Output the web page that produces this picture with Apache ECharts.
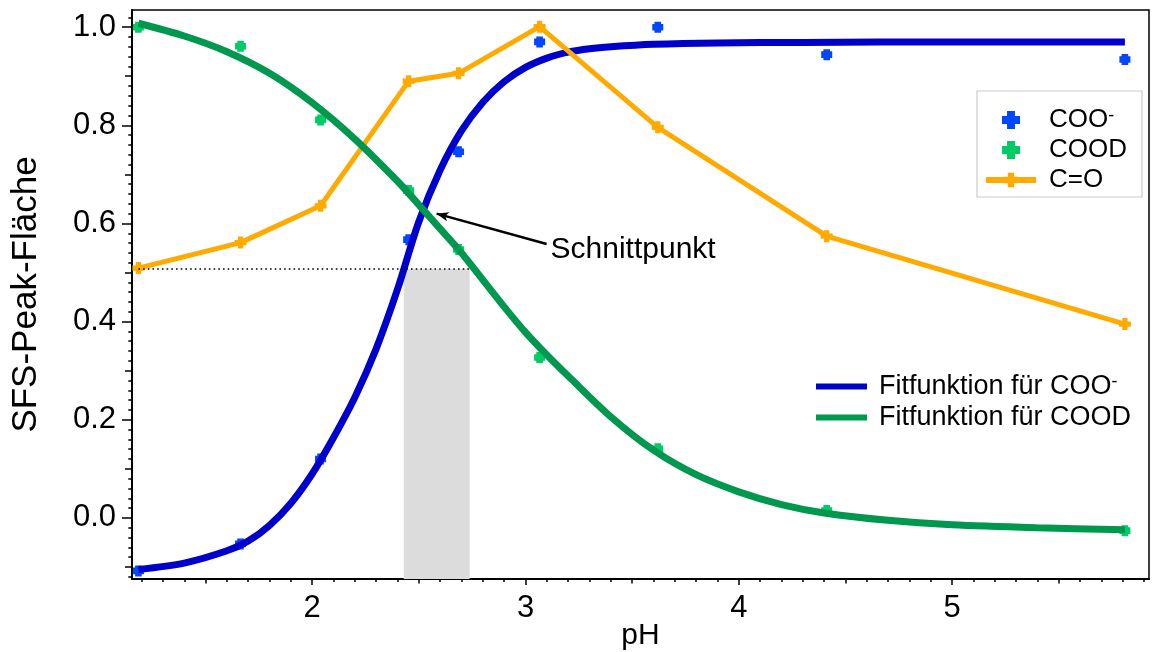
<!DOCTYPE html>
<html><head><meta charset="utf-8">
<script src="https://cdn.jsdelivr.net/npm/echarts@6/dist/echarts.min.js"></script>
<style>html,body{margin:0;padding:0;background:#fff}#c{width:1152px;height:652px}</style>
</head><body><div id="c"></div>
<script>
// ---- measured data (pH vs SFS peak area) ----
const pH        = [1.185, 1.664, 2.039, 2.452, 2.686, 3.066, 3.620, 4.412, 5.810];
const cooMinus  = [-0.108, -0.053, 0.120, 0.567, 0.746, 0.970, 1.000, 0.944, 0.934];
const cood      = [1.000, 0.961, 0.811, 0.667, 0.547, 0.327, 0.141, 0.015, -0.026];
const cO        = [0.509, 0.561, 0.636, 0.890, 0.906, 1.001, 0.796, 0.574, 0.395];

// ---- fit curves ----
const fitCooX  = [1.185, 1.4, 1.6, 1.7, 1.8, 1.9, 2.0, 2.1, 2.2, 2.3, 2.4, 2.5, 2.6, 2.7, 2.8, 2.9, 3.0, 3.1, 3.2, 3.3, 3.4, 3.6, 3.9, 4.3, 5.0, 5.81];
const fitCooY  = [-0.105, -0.092, -0.067, -0.047, -0.015, 0.030, 0.090, 0.164, 0.246, 0.345, 0.466, 0.604, 0.709, 0.789, 0.847, 0.889, 0.918, 0.937, 0.949, 0.956, 0.960, 0.965, 0.968, 0.969, 0.970, 0.970];
const fitCoodX = [1.185, 1.4, 1.6, 1.8, 2.0, 2.2, 2.4, 2.5, 2.6, 2.7, 2.8, 2.9, 3.0, 3.1, 3.2, 3.4, 3.6, 3.8, 4.0, 4.2, 4.4, 4.7, 5.0, 5.4, 5.81];
const fitCoodY = [1.008, 0.982, 0.950, 0.906, 0.846, 0.772, 0.686, 0.638, 0.589, 0.540, 0.485, 0.430, 0.378, 0.332, 0.289, 0.206, 0.138, 0.088, 0.053, 0.027, 0.010, -0.005, -0.014, -0.020, -0.024];

// ---- axis ticks ----
const xTickLabels = [2, 3, 4, 5];
const xMidTicks   = [1.5, 2.5, 3.5, 4.5, 5.5];
const yTickLabels = [0.0, 0.2, 0.4, 0.6, 0.8, 1.0];
const yMidTicks   = [-0.1, 0.1, 0.3, 0.5, 0.7, 0.9];
const xMinorTicks = []; for (let i = 12; i <= 59; i++) xMinorTicks.push(i / 10);
const yMinorTicks = []; for (let i = -6; i <= 51; i++) yMinorTicks.push(i / 50);

// ---- annotations (data space) ----
const shadeRange = [2.429, 2.738];
const shadeTop = 0.507;
const dottedStart = 1.185;
const arrowFrom = [3.099, 0.558];
const arrowTo = [2.583, 0.620];
const labelAt = [3.115, 0.546];

const X_MIN = 1.155, X_MAX = 5.923, Y_MIN = -0.1245, Y_MAX = 1.035;
const FF = 'Liberation Sans, Arial, Helvetica, sans-serif';
const PLUS = 'path://M2.8,0H7.2V2.8H10V7.2H7.2V10H2.8V7.2H0V2.8H2.8Z';
const DOT = 'path://M2,0H8V2H10V8H8V10H2V8H0V2H2Z';

const zip = (a, b) => a.map((v, i) => [v, b[i]]);
const tickStyle = {color: '#000', width: 1.5};

function xAx(ticks, len, main) {
  return {
    type: 'value', min: X_MIN, max: X_MAX, position: 'bottom',
    axisLine: {show: !!main, onZero: false, lineStyle: {color: '#000', width: 2}},
    axisTick: {show: true, customValues: ticks, length: len, lineStyle: tickStyle},
    axisLabel: main ? {show: true, customValues: xTickLabels, margin: 14, fontSize: 31, color: '#000', fontFamily: FF} : {show: false},
    splitLine: {show: false},
    name: main ? 'pH' : '', nameLocation: 'middle', nameGap: 42, nameMoveOverlap: false,
    nameTextStyle: {fontSize: 30, color: '#000', fontFamily: FF}
  };
}
function yAx(ticks, len, main) {
  return {
    type: 'value', min: Y_MIN, max: Y_MAX, position: 'left',
    axisLine: {show: !!main, onZero: false, lineStyle: {color: '#000', width: 2}},
    axisTick: {show: true, customValues: ticks, length: len, lineStyle: tickStyle},
    axisLabel: main ? {show: true, customValues: yTickLabels, margin: 16, fontSize: 31, color: '#000', fontFamily: FF,
      formatter: v => (Math.abs(v) < 1e-9 ? 0 : v).toFixed(1)} : {show: false},
    splitLine: {show: false},
    name: main ? 'SFS-Peak-Fläche' : '', nameLocation: 'middle', nameGap: 88, nameMoveOverlap: false,
    nameTextStyle: {fontSize: 35, color: '#000', fontFamily: FF}
  };
}

const legendFmt = name => name.endsWith('COO-') ? '{a|' + name.slice(0, -1) + '}{s|-}' : '{a|' + name + '}';
const legendRich = {
  a: {fontSize: 26, lineHeight: 26, fontFamily: FF, color: '#000'},
  s: {fontSize: 18, lineHeight: 4, verticalAlign: 'top', fontFamily: FF, color: '#000'}
};
const legendRich2 = {
  a: {fontSize: 27, lineHeight: 27, fontFamily: FF, color: '#000'},
  s: {fontSize: 18, lineHeight: 4, verticalAlign: 'top', fontFamily: FF, color: '#000'}
};

const option = {
  animation: false,
  backgroundColor: '#fff',
  grid: {left: 132, right: 3, top: 10, bottom: 73, outerBoundsMode: 'none', containLabel: false,
    show: true, borderColor: '#000', borderWidth: 1.5, backgroundColor: 'transparent'},
  xAxis: [xAx(xTickLabels, 6, true), xAx(xMidTicks, 4.5, false), xAx(xMinorTicks, 3, false)],
  yAxis: [yAx(yTickLabels, 10, true), yAx(yMidTicks, 7, false), yAx(yMinorTicks, 3.7, false)],
  legend: [
    {
      orient: 'vertical', left: 977, top: 91, padding: [16, 15, 4, 6],
      borderColor: '#cccccc', borderWidth: 1.2, itemWidth: 50, itemHeight: 18, itemGap: 4,
      selectedMode: false, lineStyle: {width: 6},
      data: [{name: 'COO-', icon: PLUS}, {name: 'COOD', icon: PLUS}, {name: 'C=O'}],
      formatter: legendFmt,
      textStyle: {fontSize: 26, fontFamily: FF, color: '#000', padding: [0, 0, 0, 8], rich: legendRich}
    },
    {
      orient: 'vertical', left: 816, top: 373, padding: 0,
      itemWidth: 51, itemHeight: 6, itemGap: 4, selectedMode: false,
      data: [{name: 'Fitfunktion für COO-', icon: 'rect'}, {name: 'Fitfunktion für COOD', icon: 'rect'}],
      formatter: legendFmt,
      textStyle: {fontSize: 27, fontFamily: FF, color: '#000', padding: [0, 0, 0, 7], rich: legendRich2}
    }
  ],
  series: [
    {
      name: 'COO-', type: 'scatter', data: zip(pH, cooMinus),
      symbol: DOT, symbolSize: 11, itemStyle: {color: '#0047FF', opacity: 1},
      markArea: {silent: true, itemStyle: {color: '#DCDCDC'},
        data: [[{coord: [shadeRange[0], Y_MIN]}, {coord: [shadeRange[1], shadeTop]}]]},
      markLine: {silent: true, symbol: ['none', 'none'], label: {show: false},
        lineStyle: {color: '#000', width: 1.6, type: [1.6, 3.1]},
        data: [[{coord: [dottedStart, shadeTop]}, {coord: [shadeRange[1], shadeTop]}]]}
    },
    {
      name: 'COOD', type: 'scatter', data: zip(pH, cood),
      symbol: DOT, symbolSize: 11, itemStyle: {color: '#00CC66', opacity: 1},
      markLine: {silent: true, symbol: ['none', 'arrow'], symbolSize: [7, 12], label: {show: false},
        lineStyle: {color: '#000', width: 2.5, type: 'solid'},
        data: [[{coord: arrowFrom}, {coord: arrowTo}]]},
      markPoint: {silent: true, symbol: 'rect', symbolSize: 1, itemStyle: {color: 'rgba(0,0,0,0)'},
        label: {show: true, position: 'right', distance: 0, formatter: 'Schnittpunkt', fontSize: 30, fontFamily: FF, color: '#000'},
        data: [{coord: labelAt}]}
    },
    {
      name: 'Fitfunktion für COO-', type: 'line', data: zip(fitCooX, fitCooY), smooth: 0.3,
      symbol: 'none', showSymbol: false, color: '#0000CC', lineStyle: {color: '#0000CC', width: 7}
    },
    {
      name: 'C=O', type: 'line', data: zip(pH, cO), symbol: PLUS, symbolSize: 12, showSymbol: true,
      color: '#FFAA00', itemStyle: {color: '#FFAA00'}, lineStyle: {color: '#FFAA00', width: 5}
    },
    {
      name: 'Fitfunktion für COOD', type: 'line', data: zip(fitCoodX, fitCoodY), smooth: 0.3,
      symbol: 'none', showSymbol: false, color: '#00974E', lineStyle: {color: '#00974E', width: 7}
    }
  ]
};
const chart = echarts.init(document.getElementById('c'), null, {renderer: 'canvas'});
chart.setOption(option);
</script>
</body></html>
